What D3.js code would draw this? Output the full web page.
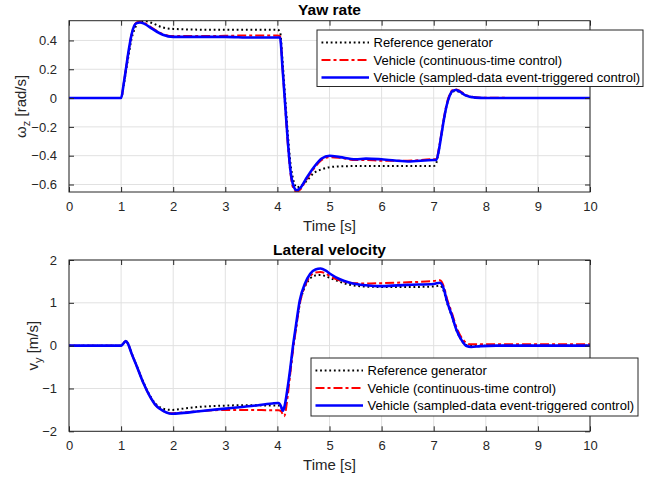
<!DOCTYPE html>
<html>
<head>
<meta charset="utf-8">
<script src="https://cdn.jsdelivr.net/npm/d3@7"></script>
<style>
  html, body { margin: 0; padding: 0; background: #fff; }
  svg { display: block; font-family: "Liberation Sans", Arial, Helvetica, sans-serif; }
</style>
</head>
<body>
<svg id="chart" width="658" height="481"></svg>
<script>
// ---------------- DATA ----------------
const xTicks = [0, 1, 2, 3, 4, 5, 6, 7, 8, 9, 10];
const yawTicks = [-0.6, -0.4, -0.2, 0, 0.2, 0.4];
const vyTicks = [-2, -1, 0, 1, 2];
const legendLabels = [
  "Reference generator",
  "Vehicle (continuous-time control)",
  "Vehicle (sampled-data event-triggered control)"
];

// Yaw rate panel
const yawTime = [0, 1.0, 1.05, 1.1, 1.15, 1.2, 1.25, 1.3, 1.36, 1.45, 1.6, 1.8, 2.0, 2.5, 3.0, 3.5, 4.0, 4.05, 4.1, 4.15, 4.2, 4.25, 4.3, 4.37, 4.45, 4.55, 4.7, 4.85, 5.0, 5.2, 5.5, 5.7, 6.0, 6.5, 7.0, 7.05, 7.1, 7.15, 7.2, 7.25, 7.3, 7.35, 7.42, 7.5, 7.6, 7.8, 8.0, 10];
const yawRef = [0, 0, 0.09, 0.2, 0.31, 0.41, 0.47, 0.51, 0.53, 0.535, 0.52, 0.49, 0.48, 0.475, 0.475, 0.475, 0.475, 0.46, 0.25, 0.0, -0.25, -0.45, -0.56, -0.62, -0.61, -0.58, -0.52, -0.495, -0.48, -0.474, -0.472, -0.472, -0.472, -0.472, -0.472, -0.45, -0.36, -0.25, -0.14, -0.05, 0.01, 0.04, 0.05, 0.04, 0.02, 0.003, 0, 0];
const yawCT = [0, 0, 0.1, 0.22, 0.34, 0.44, 0.5, 0.525, 0.53, 0.52, 0.485, 0.445, 0.43, 0.43, 0.432, 0.435, 0.435, 0.43, 0.2, -0.06, -0.32, -0.52, -0.62, -0.65, -0.63, -0.57, -0.49, -0.43, -0.41, -0.415, -0.43, -0.43, -0.435, -0.435, -0.425, -0.425, -0.35, -0.24, -0.13, -0.04, 0.02, 0.052, 0.062, 0.05, 0.025, 0.006, 0.002, 0];
const yawET = [0, 0, 0.1, 0.22, 0.34, 0.44, 0.5, 0.52, 0.525, 0.515, 0.48, 0.44, 0.425, 0.425, 0.425, 0.42, 0.42, 0.42, 0.2, -0.05, -0.3, -0.5, -0.6, -0.64, -0.62, -0.56, -0.48, -0.42, -0.40, -0.41, -0.425, -0.42, -0.425, -0.44, -0.43, -0.43, -0.36, -0.25, -0.14, -0.05, 0.01, 0.045, 0.056, 0.045, 0.02, 0.003, 0, 0];

// Lateral velocity panel
const vyTime = [0, 1.0, 1.05, 1.09, 1.13, 1.2, 1.3, 1.43, 1.55, 1.65, 1.75, 1.87, 1.97, 2.2, 2.5, 3.0, 3.5, 3.9, 4.02, 4.07, 4.1, 4.13, 4.2, 4.25, 4.3, 4.35, 4.43, 4.53, 4.63, 4.73, 4.83, 4.93, 5.01, 5.2, 5.39, 5.7, 6.0, 6.5, 7.0, 7.12, 7.2, 7.25, 7.35, 7.44, 7.55, 7.63, 7.72, 7.9, 8.2, 10];
const vyRef = [0, 0, 0.06, 0.11, 0.05, -0.17, -0.47, -0.86, -1.16, -1.34, -1.44, -1.49, -1.5, -1.47, -1.43, -1.4, -1.39, -1.4, -1.4, -1.43, -1.5, -1.47, -1.0, -0.55, -0.05, 0.36, 0.98, 1.38, 1.57, 1.64, 1.65, 1.62, 1.58, 1.49, 1.42, 1.38, 1.37, 1.37, 1.38, 1.4, 1.25, 1.03, 0.68, 0.35, 0.1, 0.01, 0, 0, 0, 0];
const vyCT = [0, 0, 0.06, 0.11, 0.05, -0.18, -0.48, -0.88, -1.18, -1.37, -1.48, -1.56, -1.58, -1.56, -1.53, -1.5, -1.5, -1.51, -1.51, -1.53, -1.6, -1.65, -1.15, -0.62, -0.1, 0.33, 0.98, 1.4, 1.62, 1.71, 1.72, 1.68, 1.62, 1.52, 1.47, 1.45, 1.46, 1.48, 1.51, 1.53, 1.36, 1.12, 0.76, 0.42, 0.16, 0.06, 0.03, 0.03, 0.03, 0.03];
const vyET = [0, 0, 0.06, 0.11, 0.05, -0.18, -0.48, -0.88, -1.18, -1.37, -1.48, -1.56, -1.59, -1.57, -1.53, -1.47, -1.41, -1.35, -1.34, -1.42, -1.52, -1.45, -0.95, -0.5, 0.0, 0.42, 1.06, 1.45, 1.68, 1.78, 1.8, 1.75, 1.68, 1.55, 1.47, 1.41, 1.39, 1.42, 1.44, 1.47, 1.3, 1.06, 0.7, 0.36, 0.1, -0.01, -0.03, -0.01, 0, 0];

// ---------------- DRAWING ----------------
const svg = d3.select("#chart");
svg.append("rect").attr("width", 658).attr("height", 481).attr("fill", "#fff");

const styles = [
  { color: "#000000", width: 2, dash: "1.8,2.8" },
  { color: "#ff0000", width: 2, dash: "9,3,3,3" },
  { color: "#0000ff", width: 2.6, dash: null }
];

function panel(cfg) {
  const { id, top, bottom, yDomain, yTicks, time, series, title, titleY,
          xlabelY, ylabelX, ylabelMain, ylabelSub, ylabelTail, legendBox, tickPadX } = cfg;
  const left = 69, right = 590;
  const x = d3.scaleLinear().domain([0, 10]).range([left, right]);
  const y = d3.scaleLinear().domain(yDomain).range([bottom, top]);

  const g = svg.append("g");
  // background
  g.append("rect").attr("x", left).attr("y", top).attr("width", right - left).attr("height", bottom - top).attr("fill", "#fff");

  // grid
  g.append("g").selectAll("line").data(xTicks).join("line")
    .attr("x1", d => x(d)).attr("x2", d => x(d)).attr("y1", top).attr("y2", bottom)
    .attr("stroke", "#e1e1e1").attr("stroke-width", 1);
  g.append("g").selectAll("line").data(yTicks).join("line")
    .attr("x1", left).attr("x2", right).attr("y1", d => y(d)).attr("y2", d => y(d))
    .attr("stroke", "#e1e1e1").attr("stroke-width", 1);

  // clip
  svg.append("clipPath").attr("id", "clip" + id).append("rect")
    .attr("x", left).attr("y", top).attr("width", right - left).attr("height", bottom - top);

  const line = d3.line().x(d => x(d[0])).y(d => y(d[1])).curve(d3.curveMonotoneX);
  const lg = g.append("g").attr("clip-path", `url(#clip${id})`);
  series.forEach((vals, i) => {
    const pts = time.map((t, k) => [t, vals[k]]);
    lg.append("path").datum(pts).attr("d", line)
      .attr("fill", "none").attr("stroke", styles[i].color)
      .attr("stroke-width", styles[i].width)
      .attr("stroke-dasharray", styles[i].dash)
      .attr("stroke-linejoin", "round");
  });

  // axes
  const axColor = "#262626";
  const xb = g.append("g").attr("transform", `translate(0,${bottom})`)
    .call(d3.axisBottom(x).tickValues(xTicks).tickFormat(d3.format("d")).tickSizeInner(-5).tickSizeOuter(0).tickPadding(tickPadX));
  const xt = g.append("g").attr("transform", `translate(0,${top})`)
    .call(d3.axisTop(x).tickValues(xTicks).tickFormat("").tickSizeInner(-5).tickSizeOuter(0));
  const yl = g.append("g").attr("transform", `translate(${left},0)`)
    .call(d3.axisLeft(y).tickValues(yTicks).tickFormat(d => d3.format("")(+d.toFixed(1))).tickSizeInner(-5).tickSizeOuter(0).tickPadding(12));
  const yr = g.append("g").attr("transform", `translate(${right},0)`)
    .call(d3.axisRight(y).tickValues(yTicks).tickFormat("").tickSizeInner(-5).tickSizeOuter(0));
  [xb, xt, yl, yr].forEach(a => {
    a.select(".domain").remove();
    a.selectAll(".tick line").attr("stroke", axColor).attr("stroke-width", 1);
    a.selectAll("text").attr("fill", axColor).attr("font-size", 13)
      .attr("font-family", "'Liberation Sans', Arial, sans-serif");
  });
  // box
  g.append("rect").attr("x", left).attr("y", top).attr("width", right - left).attr("height", bottom - top)
    .attr("fill", "none").attr("stroke", axColor).attr("stroke-width", 1);

  // title
  g.append("text").attr("x", (left + right) / 2).attr("y", titleY)
    .attr("text-anchor", "middle").attr("font-weight", "bold").attr("font-size", 15.5)
    .attr("fill", "#000").text(title);

  // x label
  g.append("text").attr("x", (left + right) / 2).attr("y", xlabelY)
    .attr("text-anchor", "middle").attr("font-size", 15).attr("fill", axColor).text("Time [s]");

  // y label
  const yt = g.append("text")
    .attr("transform", `translate(${ylabelX},${(top + bottom) / 2}) rotate(-90)`)
    .attr("text-anchor", "middle").attr("font-size", 15).attr("fill", axColor);
  yt.append("tspan").text(ylabelMain);
  yt.append("tspan").attr("font-size", 11).attr("dy", 4).text(ylabelSub);
  yt.append("tspan").attr("dy", -4).text(ylabelTail);

  // legend
  const L = g.append("g");
  L.append("rect").attr("x", legendBox.x).attr("y", legendBox.y).attr("width", legendBox.w).attr("height", legendBox.h)
    .attr("fill", "#fff").attr("stroke", axColor).attr("stroke-width", 1);
  legendLabels.forEach((lab, i) => {
    const ry = legendBox.y + 12.5 + i * 17.5;
    L.append("line").attr("x1", legendBox.x + 4.5).attr("x2", legendBox.x + 52)
      .attr("y1", ry).attr("y2", ry)
      .attr("stroke", styles[i].color).attr("stroke-width", styles[i].width)
      .attr("stroke-dasharray", styles[i].dash);
    L.append("text").attr("x", legendBox.x + 56.5).attr("y", ry).attr("dy", "0.35em")
      .attr("font-size", 13).attr("fill", "#000").text(lab);
  });
}

panel({
  id: "yaw", top: 20.7, bottom: 192, yDomain: [-0.652, 0.537], yTicks: yawTicks,
  time: yawTime, series: [yawRef, yawCT, yawET],
  title: "Yaw rate", titleY: 15, xlabelY: 230.7, ylabelX: 25.5,
  ylabelMain: "ω", ylabelSub: "z", ylabelTail: " [rad/s]",
  legendBox: { x: 317, y: 30, w: 326, h: 56.5 }, tickPadX: 10
});

panel({
  id: "vy", top: 260, bottom: 431.3, yDomain: [-2, 2], yTicks: vyTicks,
  time: vyTime, series: [vyRef, vyCT, vyET],
  title: "Lateral velocity", titleY: 254.5, xlabelY: 469.5, ylabelX: 37.5,
  ylabelMain: "v", ylabelSub: "y", ylabelTail: " [m/s]",
  legendBox: { x: 311, y: 358, w: 327, h: 58 }, tickPadX: 9
});
</script>
</body>
</html>
